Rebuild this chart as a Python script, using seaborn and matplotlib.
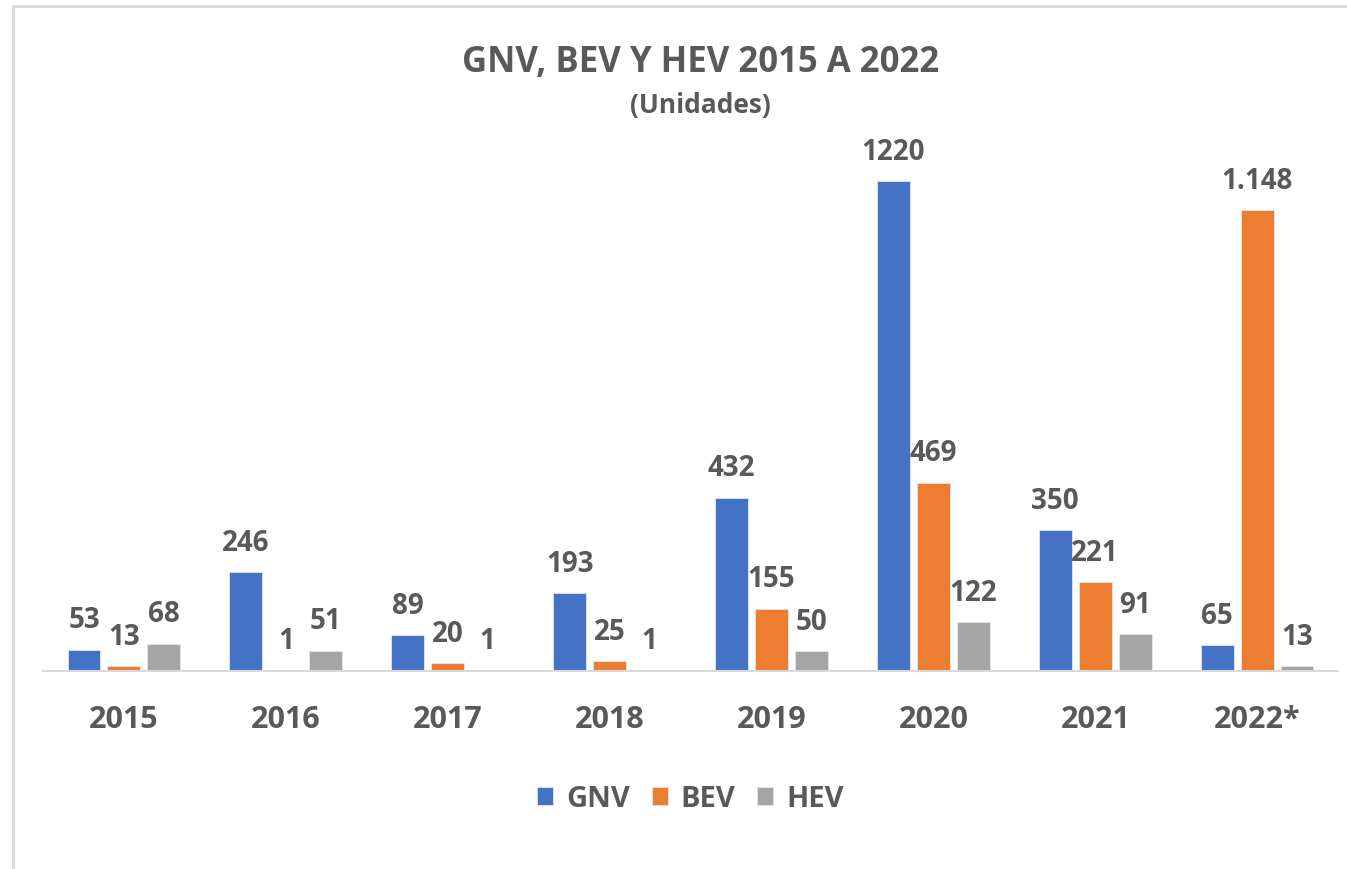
import numpy as np
import pandas as pd
import matplotlib.pyplot as plt
import seaborn as sns
from matplotlib.lines import Line2D

years = ["2015", "2016", "2017", "2018", "2019", "2020", "2021", "2022*"]
series = ["GNV", "BEV", "HEV"]
gnv = [53, 246, 89, 193, 432, 1220, 350, 65]
bev = [13, 1, 20, 25, 155, 469, 221, 1148]
hev = [68, 51, 1, 1, 50, 122, 91, 13]
colors = ["#4472C4", "#ED7D31", "#A5A5A5"]
# etiquetas tal como aparecen en el original (1.148 con punto de miles)
label_text = {
    "GNV": [str(v) for v in gnv],
    "BEV": [str(v) if v < 1000 else f"{v:,}".replace(",", ".") for v in bev],
    "HEV": [str(v) for v in hev],
}

TEXT = "#595959"


def build_frame() -> pd.DataFrame:
    values = {"GNV": gnv, "BEV": bev, "HEV": hev}
    rows = []
    for s in series:
        for y, v in zip(years, values[s]):
            rows.append({"year": y, "serie": s, "value": v})
    return pd.DataFrame(rows)


def main() -> None:
    sns.set_theme(style="white")
    plt.rcParams["font.family"] = ["Open Sans", "DejaVu Sans"]
    df = build_frame()

    fig = plt.figure(figsize=(13.47, 8.70), dpi=100)
    ax = fig.add_axes([43 / 1347, 1 - 672 / 870, 1295 / 1347, 560 / 870])

    sns.barplot(data=df, x="year", y="value", hue="serie", order=years, hue_order=series,
                palette=colors, width=0.74, gap=0.175, saturation=1, ax=ax,
                edgecolor="#dfe6f5", linewidth=0.6)

    for cont, s in zip(ax.containers, series):
        ax.bar_label(cont, labels=label_text[s], padding=11, fontsize=20,
                     fontweight="bold", color=TEXT)

    ax.set_xlim(-0.5, 7.5)
    ax.set_ylim(0, 560 / 0.4016)
    for side in ["left", "right", "top"]:
        ax.spines[side].set_visible(False)
    ax.spines["bottom"].set_color("#d9d9d9")
    ax.spines["bottom"].set_linewidth(1.5)
    ax.set_yticks([])
    ax.set_xlabel("")
    ax.set_ylabel("")
    ax.tick_params(axis="x", length=0, pad=24, labelsize=22, labelcolor=TEXT)
    for t in ax.get_xticklabels():
        t.set_fontweight("bold")

    leg = ax.legend(loc="center", bbox_to_anchor=(0.5, (672 - 800) / 560), ncol=3,
                    frameon=False, fontsize=21, handlelength=0.55, handleheight=0.55,
                    handletextpad=0.45, columnspacing=0.75)
    for t in leg.get_texts():
        t.set_color(TEXT)
        t.set_fontweight("bold")

    fig.text(0.52, 1 - 63 / 870, "GNV, BEV Y HEV 2015 A 2022", ha="center", va="center",
             fontsize=25, fontweight="bold", color=TEXT)
    fig.text(0.52, 1 - 106 / 870, "(Unidades)", ha="center", va="center",
             fontsize=19, fontweight="bold", color=TEXT)

    # marco gris claro del grafico (solo se ve arriba y a la izquierda)
    fig.add_artist(Line2D([13 / 1347, 1], [1 - 7 / 870, 1 - 7 / 870], color="#d9d9d9", lw=2))
    fig.add_artist(Line2D([13 / 1347, 13 / 1347], [0, 1 - 7 / 870], color="#d9d9d9", lw=2))

    fig.savefig("out.png", dpi=100)


if __name__ == "__main__":
    main()
